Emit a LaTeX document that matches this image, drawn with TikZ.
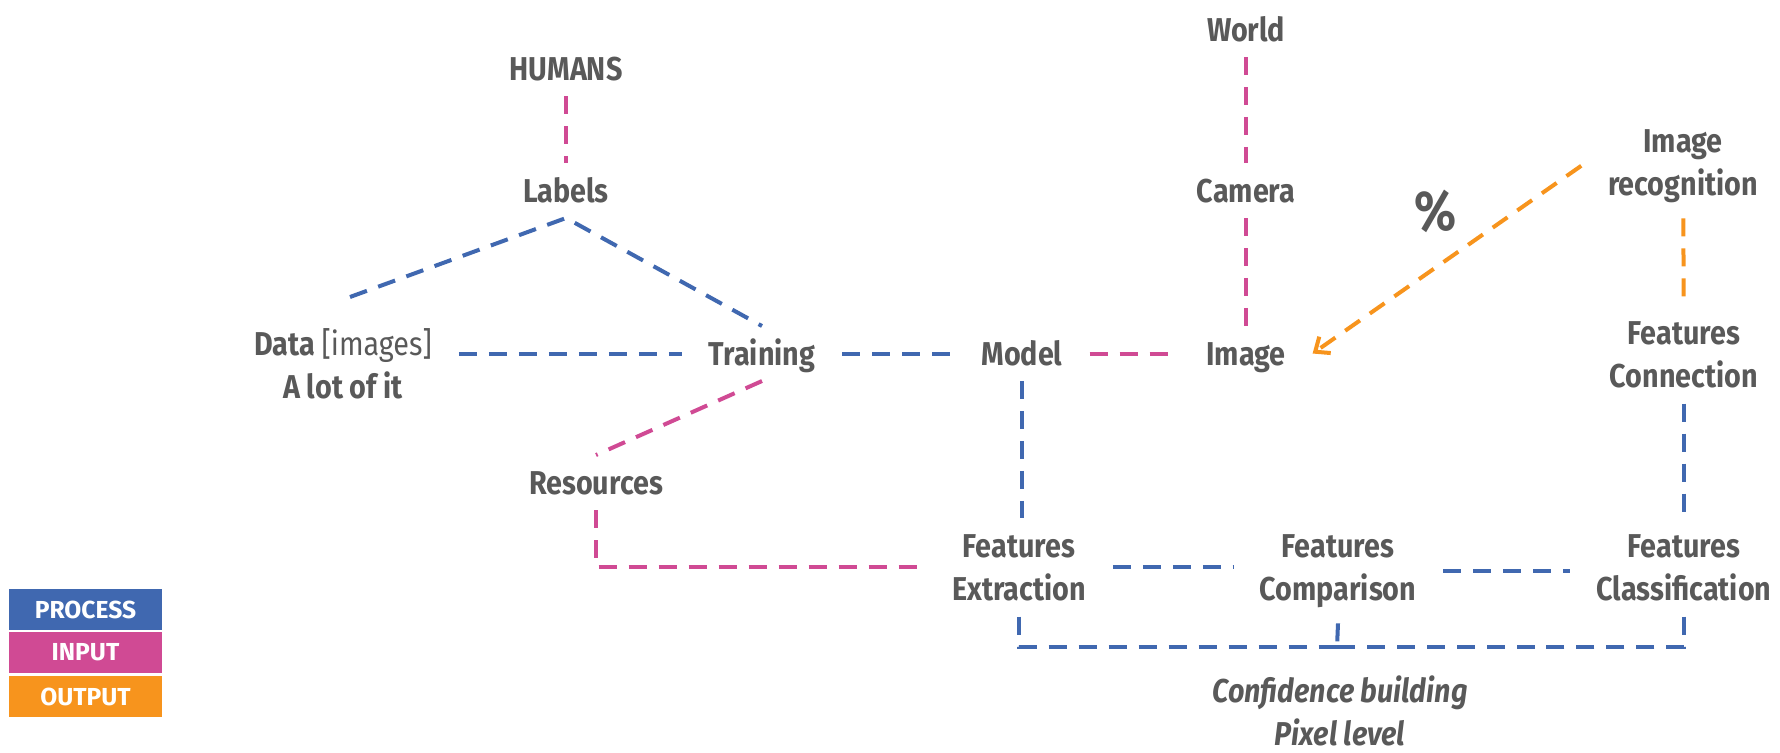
\documentclass[tikz,border=0pt]{standalone}
\usepackage{fontspec}
\setmainfont{Fira Sans}[FakeStretch=0.87]
\newfontfamily\keyfont{Fira Sans}
\usetikzlibrary{arrows.meta}

\definecolor{txtgrey}{HTML}{595959}
\definecolor{procblue}{HTML}{4068B0}
\definecolor{inmag}{HTML}{D04A94}
\definecolor{outorange}{HTML}{F7941D}

\tikzset{
  word/.style={text=txtgrey, font=\bfseries\fontsize{18.8}{24.4}\selectfont, inner sep=0pt, outer xsep=0.54cm, outer ysep=0.32cm, anchor=base},
  oneline/.style={word, text height=0.46cm, text depth=0pt},
  twoline/.style={word, align=center},
  process/.style={procblue, line width=0.08cm, dash pattern=on 0.36cm off 0.24cm},
  input/.style={process, inmag},
  output/.style={process, outorange},
  legendbox/.style={rectangle, text=white, font=\keyfont\bfseries\fontsize{14}{16}\selectfont, minimum width=3.06cm, minimum height=0.82cm, inner sep=0pt},
}

\begin{document}
\begin{tikzpicture}[x=0.02cm, y=-0.02cm, >={Straight Barb[length=0.24cm, width=0.4cm]}]
    \useasboundingbox (0,0) rectangle (1780,752);

    % training side
    \node[oneline] (humans) at (566,80) {HUMANS};
    \node[oneline] (labels) at (566,202) {Labels};
    \node[twoline] (data) at (343,398) {Data {\mdseries[images]}\\A lot of it};
    \node[oneline] (training) at (762,365) {Training};
    \node[oneline] (resources) at (596,494) {Resources};
    \node[oneline] (model) at (1022,365) {Model};

    % recognition side
    \node[oneline] (world) at (1246,41) {World};
    \node[oneline] (camera) at (1246,202) {Camera};
    \node[oneline] (image) at (1246,365) {Image};
    \node[oneline, font=\bfseries\fontsize{32}{36}\selectfont] (pct) at (1435,230) {\%};
    \node[twoline] (imgrec) at (1683,195) {Image\\recognition};
    \node[twoline] (fconn) at (1684,387) {Features\\Connection};
    \node[twoline] (fext) at (1019,600) {Features\\Extraction};
    \node[twoline] (fcomp) at (1338,600) {Features\\Comparison};
    \node[twoline] (fclass) at (1684,600) {Features\\Classification};
    \node[twoline, font=\bfseries\itshape\fontsize{18.8}{24.4}\selectfont] (conf) at (1340,745) {Confidence building\\Pixel level};

    \coordinate (dataTop) at (350,297);
    \coordinate (pixRow) at (1337,647);

    % connectors
    \draw[input] (humans) -- (labels);
    \draw[process] (dataTop) -- (labels.south) -- (training.north);
    \draw[process] (data.east |- training.west) -- (training.west);
    \draw[process] (training) -- (model);
    \draw[input] (training.south) -- (resources.north);
    \draw[input] (resources.south) |- (fext.west);
    \draw[input] (model) -- (image);
    \draw[input] (world) -- (camera) -- (image);
    \draw[output, ->] (imgrec.west) -- (image.east);
    \draw[output] (imgrec) -- (fconn);
    \draw[process] (fconn) -- (fclass);
    \draw[process] (model.south) -- (model.south |- fext.north);
    \draw[process] (fext.east) -- (fext.east -| fcomp.west);
    \draw[process] (fcomp.east) -- (fcomp.east -| fclass.west);
    \draw[process] (fext.south) |- (pixRow);
    \draw[process] (fclass.south) |- (pixRow);
    \draw[process] (fcomp.south) -- (pixRow);

    % legend
    \node[legendbox, fill=procblue] (kproc) at (85.5,609.5) {PROCESS};
    \node[legendbox, fill=inmag] (kin) at (85.5,652.5) {INPUT};
    \node[legendbox, fill=outorange] (kout) at (85.5,696.5) {OUTPUT};
\end{tikzpicture}
\end{document}
